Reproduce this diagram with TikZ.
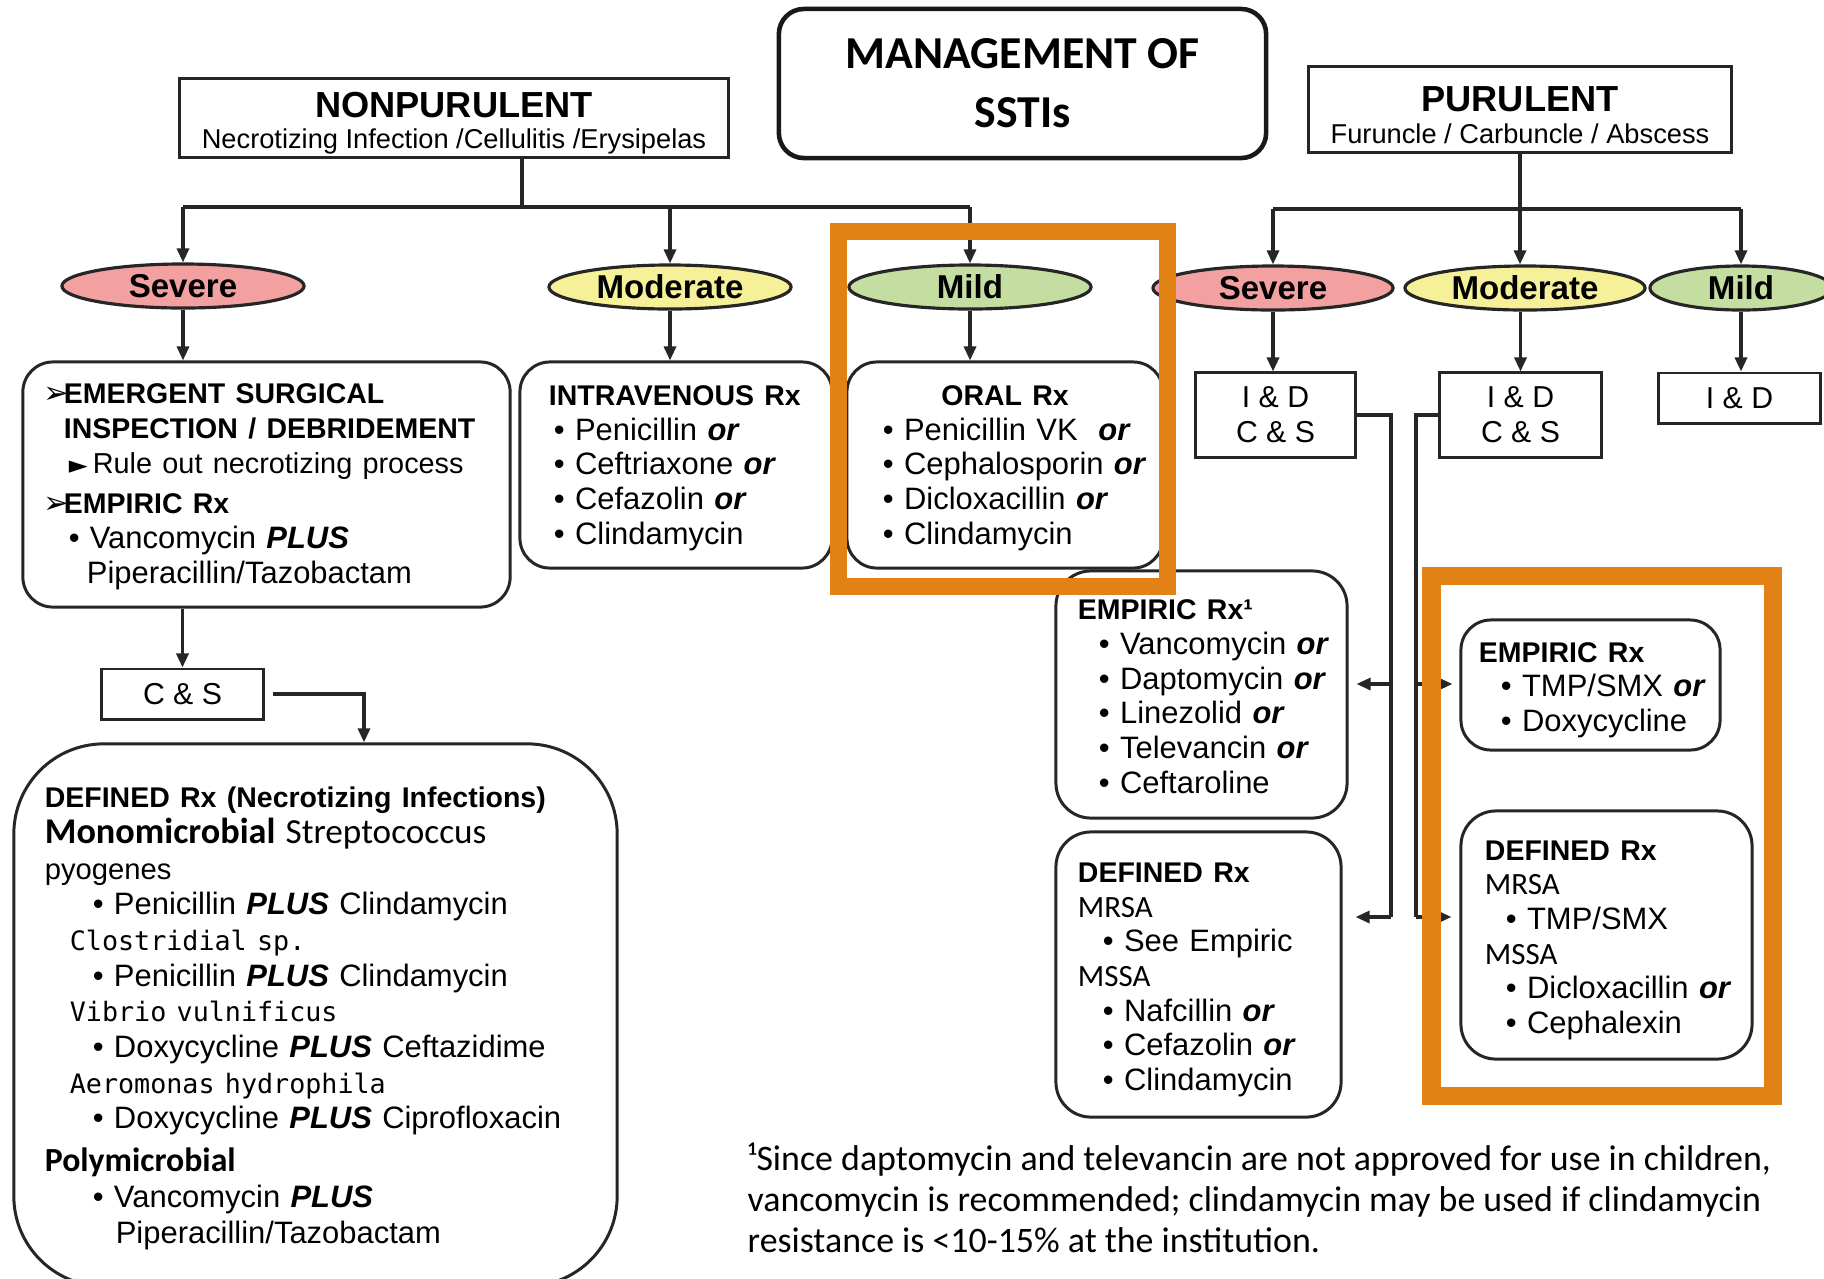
\documentclass[tikz,border=0pt]{standalone}
\usepackage{fontspec}
\setmainfont{Liberation Sans}
\newfontfamily\cali{Carlito}
\newfontfamily\monof{DejaVu Sans Mono}
\newfontfamily\symf{DejaVu Sans}
\usepackage{xcolor}
\usepackage{tikz}
\usetikzlibrary{shapes.geometric, arrows.meta}

\definecolor{sevpink}{RGB}{242,160,160}
\definecolor{modyel}{RGB}{246,240,152}
\definecolor{mildgrn}{RGB}{196,221,160}
\definecolor{orframe}{RGB}{226,129,20}

\newlength\pxu
\setlength\pxu{0.01cm}
\newcommand{\bodyf}{\fontsize{8.8}{9.85}\selectfont}
\newcommand{\hd}[1]{{\fontsize{8.1}{9.85}\selectfont\bfseries #1}}
\newcommand{\orw}{\textbf{\textit{or}}}
\newcommand{\plusw}{\textbf{\textit{PLUS}}}
\newcommand{\calif}[2][9.6]{{\cali\fontsize{#1}{9.85}\selectfont #2}}
\newcommand{\monot}[1]{{\monof\fontsize{7.6}{9.85}\selectfont #1}}
\newcommand{\mk}[1]{\makebox[20\pxu][l]{\symf #1}}
% lines of a box, lowered by #1 px without changing the box size
\newcommand{\rxlines}[2][5]{\noindent\raisebox{-#1\pxu}[\height][\depth]{\begin{tabular}{@{}l@{}}#2\end{tabular}}}
\newcommand{\hdrlines}[3][6]{\raisebox{-#1\pxu}[\height][\depth]{\begin{tabular}{@{}c@{}}#2\\#3\end{tabular}}}

\begin{document}
\begin{tikzpicture}[
  x=0.01cm, y=-0.01cm,
  >={Triangle[length=0.14cm, width=0.12cm]},
  link/.style={draw=black!85, line width=0.9pt},
  titlebox/.style={draw=black!90, line width=1.3pt, rounded corners=0.25cm, align=center, inner sep=0pt, font=\cali\bfseries\fontsize{13}{16.8}\selectfont},
  hdrbox/.style={draw=black!85, line width=0.85pt, align=center, inner sep=0pt, font=\fontsize{8}{9}\selectfont},
  lvl/.style={ellipse, draw=black!85, line width=0.9pt, inner sep=0pt, minimum height=0.44cm, font=\fontsize{9.4}{11}\selectfont\bfseries},
  rxbox/.style={draw=black!85, line width=0.85pt, rounded corners=0.3cm, align=left, inner ysep=0pt, font=\bodyf},
  sqbox/.style={draw=black!85, line width=0.85pt, align=center, inner sep=0pt, font=\fontsize{8.6}{9.9}\selectfont},
  foot/.style={align=left, inner sep=0pt, font=\cali\fontsize{10.2}{11.66}\selectfont},
  hilite/.style={draw=orframe, line width=0.17cm}
]

\fill[white] (0,0) rectangle (1824,1278);
\useasboundingbox (0,0) rectangle (1824,1278);

\node[titlebox, minimum width=4.87cm, minimum height=1.49cm] (title) at (1022.5,83.5) {MANAGEMENT OF\\SSTIs};
\node[hdrbox, minimum width=5.48cm, minimum height=0.78cm] (nonpur) at (454,118) {\hdrlines[7]{\fontsize{10.3}{12}\selectfont\bfseries NONPURULENT}{\fontsize{7.75}{9}\selectfont Necrotizing Infection /Cellulitis /Erysipelas}};
\node[hdrbox, minimum width=4.22cm, minimum height=0.85cm] (pur) at (1520,109.5) {\hdrlines[10]{\fontsize{10.3}{12}\selectfont\bfseries PURULENT}{\fontsize{7.75}{9}\selectfont Furuncle / Carbuncle / Abscess}};

\node[lvl, fill=sevpink, minimum width=2.42cm] (sev1) at (183,286) {Severe};
\node[lvl, fill=modyel, minimum width=2.42cm] (mod1) at (670,287) {Moderate};
\node[lvl, fill=mildgrn, minimum width=2.42cm] (mild1) at (970,287) {Mild};
\node[lvl, fill=sevpink, minimum width=2.4cm] (sev2) at (1273,288) {Severe};
\node[lvl, fill=modyel, minimum width=2.4cm] (mod2) at (1525,288) {Moderate};
\node[lvl, fill=mildgrn, minimum width=1.82cm] (mild2) at (1741,288) {Mild};

\node[rxbox, text width=4.45cm, inner xsep=0.21cm, minimum height=2.45cm] (sevbox) at (266.5,484.5) {\rxlines[2]{%
  \mk{➢}\hd{EMERGENT SURGICAL}\\
  \hspace*{20\pxu}\hd{INSPECTION / DEBRIDEMENT}\\
  \hspace*{25\pxu}\makebox[24\pxu][l]{\symf\fontsize{7}{9}\selectfont ►}{\fontsize{8.2}{9.85}\selectfont Rule out necrotizing process}\\[6\pxu]
  \mk{➢}\hd{EMPIRIC Rx}\\
  \hspace*{25\pxu}\makebox[21\pxu][l]{•}Vancomycin \plusw\\
  \hspace*{43\pxu}Piperacillin/Tazobactam}};
\node[rxbox, text width=2.54cm, inner xsep=0.29cm, minimum height=2.06cm] (ivbox) at (676,465) {\rxlines[3]{%
  \hd{INTRAVENOUS Rx}\\
  \hspace*{5\pxu}• Penicillin \orw\\
  \hspace*{5\pxu}• Ceftriaxone \orw\\
  \hspace*{5\pxu}• Cefazolin \orw\\
  \hspace*{5\pxu}• Clindamycin}};
\node[rxbox, text width=2.44cm, inner xsep=0.36cm, minimum height=2.06cm] (oralbox) at (1005,465) {\rxlines[3]{%
  \multicolumn{1}{@{}c@{}}{\hspace*{-19\pxu}\hd{ORAL Rx}}\\
  • Penicillin VK\ \ \orw\\
  • Cephalosporin \orw\\
  • Dicloxacillin \orw\\
  • Clindamycin}};

\node[sqbox, minimum width=1.61cm, minimum height=0.5cm] (cs1) at (182.5,694) {C \& S};
\node[rxbox, rounded corners=0.9cm, text width=5.41cm, inner xsep=0.31cm, minimum height=5.42cm, font=\fontsize{8.8}{10.15}\selectfont] (defnec) at (315.5,1015) {\rxlines[3]{%
  \hd{DEFINED Rx (Necrotizing Infections)}\\
  \calif[10.3]{\bfseries Monomicrobial} \calif[10]{Streptococcus}\\
  {\fontsize{8.3}{10}\selectfont pyogenes}\\
  \hspace*{48\pxu}• Penicillin \plusw{} Clindamycin\\
  \hspace*{25\pxu}\monot{Clostridial sp.}\\
  \hspace*{48\pxu}• Penicillin \plusw{} Clindamycin\\
  \hspace*{25\pxu}\monot{Vibrio vulnificus}\\
  \hspace*{48\pxu}• Doxycycline \plusw{} Ceftazidime\\
  \hspace*{25\pxu}\monot{Aeromonas hydrophila}\\
  \hspace*{48\pxu}• Doxycycline \plusw{} Ciprofloxacin\\[7\pxu]
  \calif{\bfseries Polymicrobial}\\
  \hspace*{48\pxu}• Vancomycin \plusw\\
  \hspace*{71\pxu}Piperacillin/Tazobactam}};

\node[sqbox, minimum width=1.59cm, minimum height=0.84cm] (isev) at (1275.5,415) {I \& D\\C \& S};
\node[sqbox, minimum width=1.61cm, minimum height=0.84cm] (imod) at (1520.5,415) {I \& D\\C \& S};
\node[sqbox, minimum width=1.61cm, minimum height=0.5cm] (imild) at (1739.5,398) {I \& D};

\node[rxbox, text width=2.47cm, inner xsep=0.22cm, minimum height=2.47cm, rounded corners=0.35cm] (emp1) at (1201.5,694.5) {\rxlines{%
  \hd{EMPIRIC Rx¹}\\
  \hspace*{21\pxu}• Vancomycin \orw\\
  \hspace*{21\pxu}• Daptomycin \orw\\
  \hspace*{21\pxu}• Linezolid \orw\\
  \hspace*{21\pxu}• Televancin \orw\\
  \hspace*{21\pxu}• Ceftaroline}};
\node[rxbox, text width=2.41cm, inner xsep=0.22cm, minimum height=2.85cm, rounded corners=0.35cm] (def1) at (1198.5,974.5) {\rxlines{%
  \hd{DEFINED Rx}\\
  {\cali\fontsize{8.8}{9.85}\selectfont MRSA}\\
  \hspace*{25\pxu}• See Empiric\\
  {\cali\fontsize{8.8}{9.85}\selectfont MSSA}\\
  \hspace*{25\pxu}• Nafcillin \orw\\
  \hspace*{25\pxu}• Cefazolin \orw\\
  \hspace*{25\pxu}• Clindamycin}};
\node[rxbox, text width=2.23cm, inner xsep=0.18cm, minimum height=1.3cm] (emp2) at (1590.5,685) {\rxlines{%
  \hd{EMPIRIC Rx}\\
  \hspace*{22\pxu}• TMP/SMX \orw\\
  \hspace*{22\pxu}• Doxycycline}};
\node[rxbox, text width=2.43cm, inner xsep=0.24cm, minimum height=2.48cm, rounded corners=0.35cm] (def2) at (1606.5,935) {\rxlines{%
  \hd{DEFINED Rx}\\
  {\cali\fontsize{8.8}{9.85}\selectfont MRSA}\\
  \hspace*{21\pxu}• TMP/SMX\\
  {\cali\fontsize{8.8}{9.85}\selectfont MSSA}\\
  \hspace*{21\pxu}• Dicloxacillin \orw\\
  \hspace*{21\pxu}• Cephalexin}};

\node[foot, anchor=north west] (note) at (747,1142) {¹Since daptomycin and televancin are not approved for use in children,\\vancomycin is recommended; clindamycin may be used if clindamycin\\resistance is <10-15\% at the institution.};

\coordinate (nbus) at (522,207);
\coordinate (pbus) at (1520,209);
\draw[link] (nbus |- nonpur.south) -- (nbus);
\draw[link] (sev1 |- nbus) -- (mild1 |- nbus);
\draw[link, ->] (sev1 |- nbus) -- (sev1);
\draw[link, ->] (mod1 |- nbus) -- (mod1);
\draw[link, ->] (mild1 |- nbus) -- (mild1);
\draw[link] (pur) -- (pbus);
\draw[link] (sev2 |- pbus) -- (mild2 |- pbus);
\draw[link, ->] (sev2 |- pbus) -- (sev2);
\draw[link, ->] (pbus) -- (pbus |- mod2.north);
\draw[link, ->] (mild2 |- pbus) -- (mild2);

\draw[link, ->] (sev1) -- (sev1 |- sevbox.north);
\draw[link, ->] (mod1) -- (mod1 |- ivbox.north);
\draw[link, ->] (mild1) -- (mild1 |- oralbox.north);
\draw[link, ->] (sev2) -- (sev2 |- isev.north);
\draw[link, ->] (imod |- mod2.south) -- (imod);
\draw[link, ->] (mild2) -- (mild2 |- imild.north);

\draw[link, ->] (cs1 |- sevbox.south) -- (cs1);
\coordinate (csx) at (364,0);
\draw[link, ->, shorten <=0.08cm] (cs1.east) -| (csx |- defnec.north);

\coordinate (railL) at (1391,684);
\coordinate (railR) at (1416,684);
\coordinate (lowy) at (0,917);
\draw[link] (isev.east) -| (railL |- lowy);
\draw[link, ->, shorten >=0.08cm] (railL) -- (emp1.east |- railL);
\draw[link, ->, shorten >=0.13cm] (railL |- lowy) -- (def1.east |- lowy);
\draw[link] (imod.west) -| (railR |- lowy);
\draw[link, ->, shorten >=0.07cm] (railR) -- (emp2.west |- railR);
\draw[link, ->, shorten >=0.08cm] (railR |- lowy) -- (def2.west |- lowy);

\draw[hilite] (838.5,231.5) rectangle (1167.5,586.5);
\draw[hilite, line width=0.185cm] (1431.5,576) rectangle (1773,1096);

\end{tikzpicture}
\end{document}
